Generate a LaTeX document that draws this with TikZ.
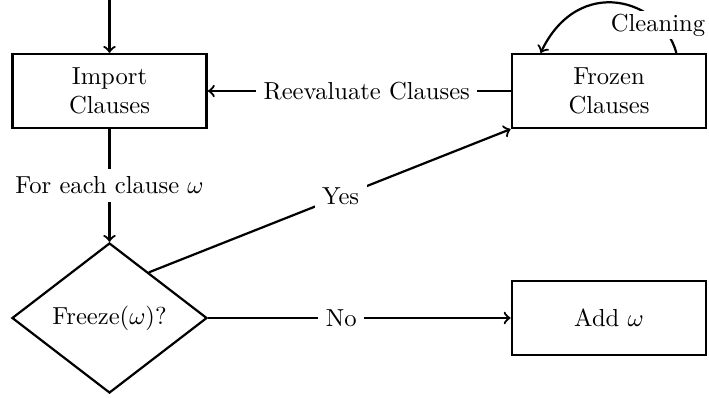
\documentclass[tikz,border=0pt]{standalone}
\usetikzlibrary{shapes.geometric,calc}
\begin{document}
\begin{tikzpicture}[x=0.4065pt,y=-0.4065pt,
  conn/.style={draw,line width=0.9pt,->},
  stepbox/.style={draw,line width=1pt,rectangle,align=center,minimum width=79pt,minimum height=30pt,inner sep=2pt},
  decide/.style={draw,line width=0.9pt,diamond,minimum width=79.3pt,minimum height=61pt,inner sep=0pt},
  lbl/.style={fill=white,inner sep=3pt},
  >=to]
\useasboundingbox (0,0) rectangle (709,398);
\node[stepbox] (import) at (109.5,91) {Import\\Clauses};
\node[stepbox] (frozen) at (609,91) {Frozen\\Clauses};
\node[stepbox] (add) at (609,318) {Add $\omega$};
\node[decide] (freeze) at (109.5,318) {Freeze($\omega$)?};
\coordinate (entry) at (109.5,0);
\coordinate (yesstart) at ($(freeze.north)!0.4!(freeze.east)$);
\coordinate (cstart) at ($(frozen.north east)+(-31,0)$);
\coordinate (cend) at ($(frozen.north west)+(30,0)$);

\path[conn] (entry) -- (import.north);
\path[conn] (import.south) -- node[lbl] {For each clause $\omega$} (freeze.north);
\path[conn] (frozen.west) -- node[lbl,pos=0.475] {Reevaluate Clauses} (import.east);
\path[conn] (yesstart) -- node[lbl,pos=0.53] {Yes} (frozen.south west);
\path[conn] (freeze.east) -- node[lbl,pos=0.44] {No} (add.west);
\path[conn] (cstart) .. controls +(-15,-54) and +(38,-79) .. (cend);
\node[lbl,inner sep=1pt] (cleanlbl) at (658,25) {Cleaning};
\end{tikzpicture}
\end{document}
